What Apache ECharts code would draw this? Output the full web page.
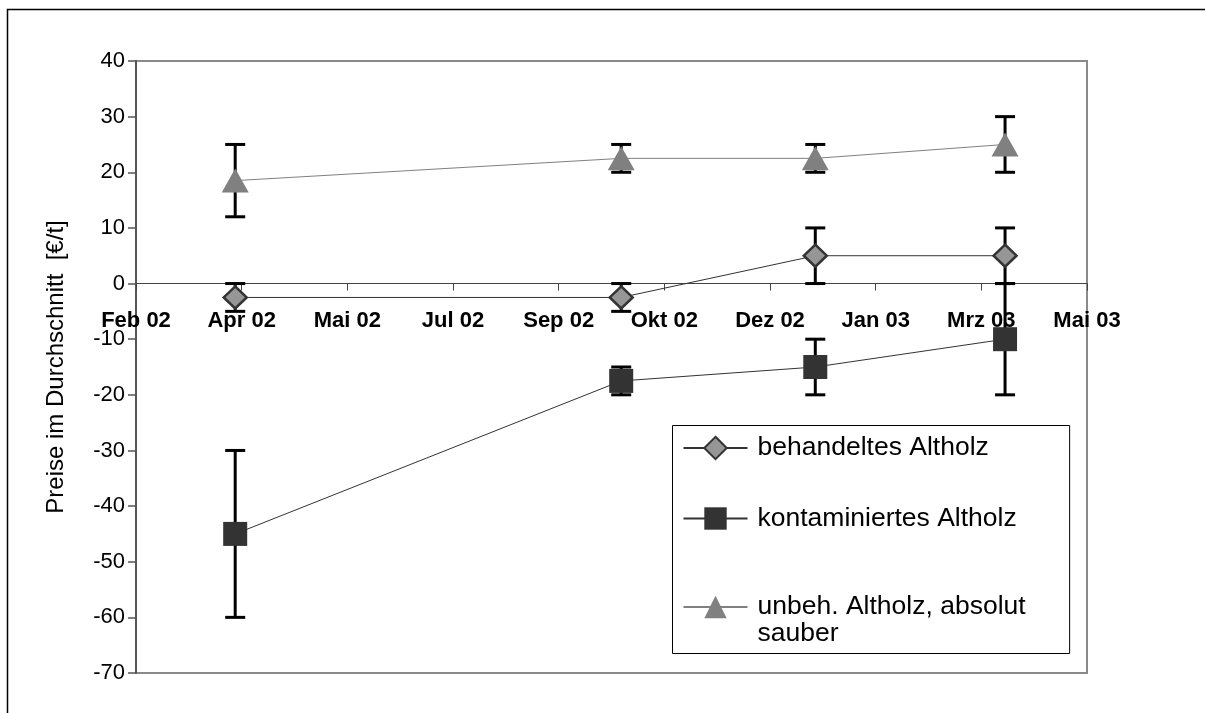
<!DOCTYPE html>
<html><head><meta charset="utf-8">
<script src="https://cdn.jsdelivr.net/npm/echarts@6/dist/echarts.min.js"></script>
<style>html,body{margin:0;padding:0;background:#fff}#c{width:1205px;height:713px}</style>
</head><body><div id="c"></div>
<script>
// ---- data ----
const axisOrigin = '2002-02-20';
const tickStepDays = 49;
const tickCount = 9;
const monthNames = ['Jan','Feb','Mrz','Apr','Mai','Jun','Jul','Aug','Sep','Okt','Nov','Dez'];
const surveyDates = ['2002-04-07','2002-10-03','2003-01-01','2003-03-30'];
const seriesNames = ['behandeltes Altholz','kontaminiertes Altholz','unbeh. Altholz, absolut sauber'];
const legendLabels = ['behandeltes Altholz','kontaminiertes Altholz',' \nunbeh. Altholz, absolut\nsauber'];
const behandeltMean = [-2.5, -2.5, 5, 5];
const behandeltLow  = [-5, -5, 0, 0];
const behandeltHigh = [0, 0, 10, 10];
const kontaminiertMean = [-45, -17.5, -15, -10];
const kontaminiertLow  = [-60, -20, -20, -20];
const kontaminiertHigh = [-30, -15, -10, 0];
const unbehMean = [18.5, 22.5, 22.5, 25];
const unbehLow  = [12, 20, 20, 20];
const unbehHigh = [25, 25, 25, 30];
const yMin = -70, yMax = 40, yStep = 10;
const yAxisTitle = 'Preise im Durchschnitt  [€/t]';

// ---- helpers ----
const DAY = 86400000;
const originMs = Date.parse(axisOrigin + 'T00:00:00Z');
const toDay = s => Math.round((Date.parse(s + 'T00:00:00Z') - originMs) / DAY);
const xs = surveyDates.map(toDay);
const FONT = 'Liberation Sans, Arial, sans-serif';

const GRID = {left: 136, right: 118, top: 61, bottom: 40};
const gridH = 713 - GRID.top - GRID.bottom;
const zeroOffset = -gridH * (0 - yMin) / (yMax - yMin);

function pts(mean){ return xs.map((x,i)=>[x, mean[i]]); }
function bars(lo, hi){ return xs.map((x,i)=>[x, lo[i], hi[i]]); }
const errData = [].concat(
  bars(behandeltLow, behandeltHigh),
  bars(kontaminiertLow, kontaminiertHigh),
  bars(unbehLow, unbehHigh)
);

const chart = echarts.init(document.getElementById('c'), null, {renderer:'canvas'});
chart.setOption({
  animation: false,
  backgroundColor: '#fff',
  graphic: [{
    type: 'rect', silent: true, z: -10,
    shape: {x: 7.5, y: 9.5, width: 1400, height: 900},
    style: {fill: 'transparent', stroke: '#000', lineWidth: 1.5}
  }],
  grid: Object.assign({show: true, borderColor: '#8a8a8a', borderWidth: 2,
         containLabel: false, outerBoundsMode: 'none'}, GRID),
  legend: {
    orient: 'vertical', left: 672.5, top: 425.5,
    itemWidth: 64, itemHeight: 28, itemGap: 34.5,
    padding: [0, 44, 6, 10], borderColor: '#000', borderWidth: 1,
    selectedMode: false,
    textStyle: {fontFamily: FONT, fontSize: 26.5, lineHeight: 27, color: '#000', padding: [0,0,0,5]},
    data: [
      {name: seriesNames[0], textStyle: {padding: [9,0,9,5]}},
      {name: seriesNames[1]},
      {name: seriesNames[2]}
    ],
    formatter: name => legendLabels[seriesNames.indexOf(name)]
  },
  xAxis: {
    type: 'value', min: 0, max: tickStepDays * tickCount, interval: tickStepDays,
    offset: zeroOffset,
    axisLine: {onZero: false, lineStyle: {color: '#444', width: 1}},
    axisTick: {show: true, length: 7, lineStyle: {color: '#444', width: 1}},
    axisLabel: {
      fontFamily: FONT, fontWeight: 'bold', fontSize: 22, color: '#000', margin: 26,
      showMinLabel: true, showMaxLabel: true,
      formatter: v => {
        const d = new Date(originMs + v * DAY);
        return monthNames[d.getUTCMonth()] + ' ' + String(d.getUTCFullYear()).slice(2);
      }
    },
    splitLine: {show: false}
  },
  yAxis: {
    type: 'value', min: yMin, max: yMax, interval: yStep,
    axisLine: {show: true, onZero: false, lineStyle: {color: '#555', width: 2}},
    axisTick: {show: true, length: 8, lineStyle: {color: '#555', width: 1.5}},
    axisLabel: {fontFamily: FONT, fontSize: 22, color: '#000', margin: 11},
    splitLine: {show: false},
    name: yAxisTitle, nameLocation: 'middle', nameGap: 68,
    nameTextStyle: {fontFamily: FONT, fontSize: 24, color: '#000'}
  },
  series: [
    {
      name: 'Fehlerbalken', type: 'custom', z: 1, silent: true,
      data: errData, encode: {x: 0, y: [1, 2]},
      renderItem: (params, api) => {
        const x = api.value(0);
        const a = api.coord([x, api.value(1)]);
        const b = api.coord([x, api.value(2)]);
        const h = 10;
        const st = {stroke: '#000', lineWidth: 3};
        return {type: 'group', children: [
          {type: 'line', shape: {x1: a[0], y1: a[1], x2: b[0], y2: b[1]}, style: st},
          {type: 'line', shape: {x1: a[0]-h, y1: a[1], x2: a[0]+h, y2: a[1]}, style: st},
          {type: 'line', shape: {x1: b[0]-h, y1: b[1], x2: b[0]+h, y2: b[1]}, style: st}
        ]};
      }
    },
    {
      name: seriesNames[0], type: 'line', z: 3, data: pts(behandeltMean),
      symbol: 'diamond', symbolSize: [23, 22],
      itemStyle: {color: '#969696', borderColor: '#333', borderWidth: 2.5},
      lineStyle: {color: '#333', width: 1}
    },
    {
      name: seriesNames[1], type: 'line', z: 3, data: pts(kontaminiertMean),
      symbol: 'rect', symbolSize: 24,
      itemStyle: {color: '#333333'},
      lineStyle: {color: '#333', width: 1}
    },
    {
      name: seriesNames[2], type: 'line', z: 3, data: pts(unbehMean),
      symbol: 'triangle', symbolSize: [27, 24],
      itemStyle: {color: '#808080'},
      lineStyle: {color: '#808080', width: 1}
    }
  ]
});
</script>
</body></html>
